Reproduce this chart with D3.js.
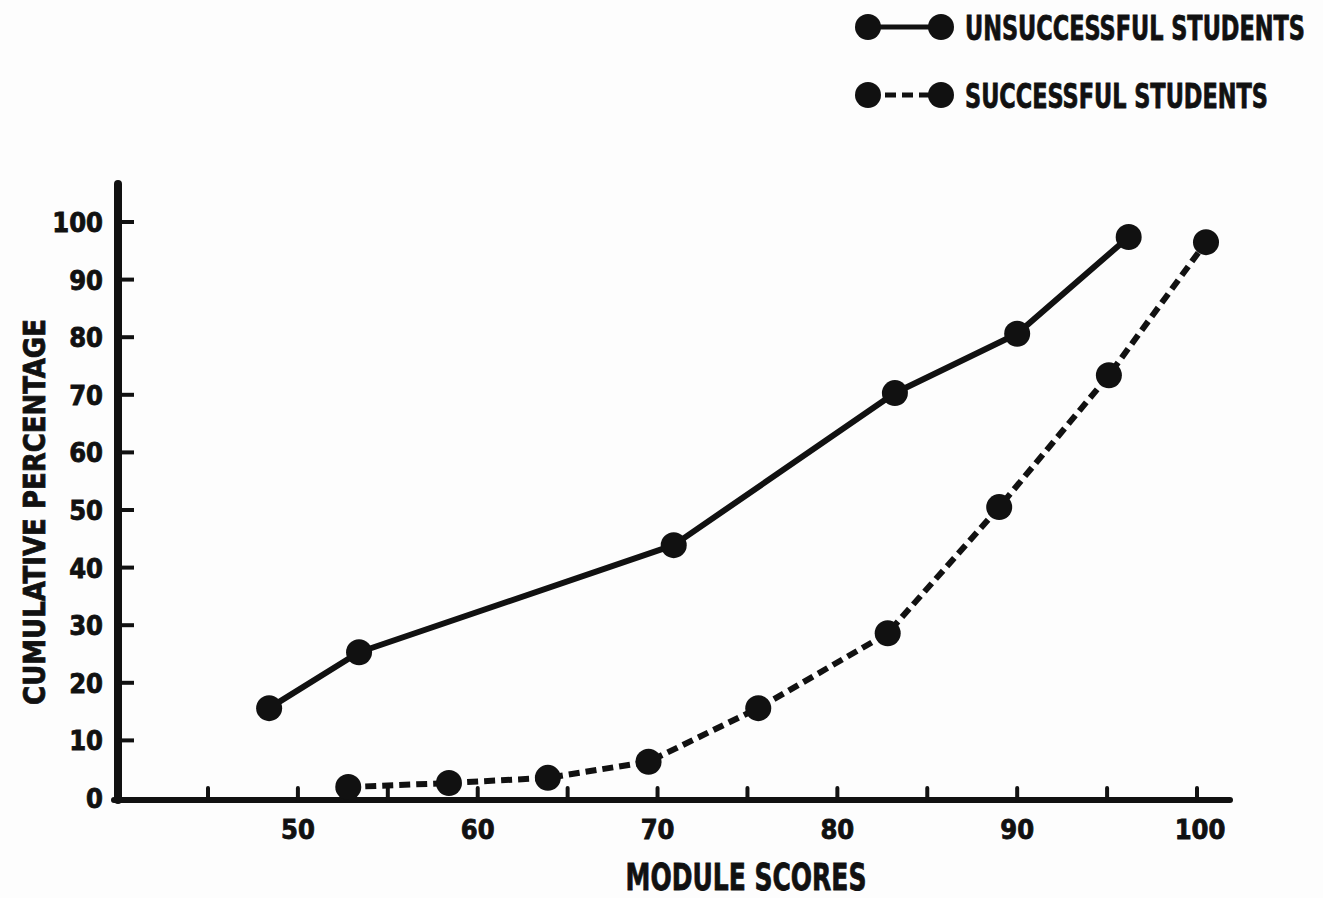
<!DOCTYPE html>
<html lang="en">
<head>
    <meta charset="UTF-8">
    <title>Cumulative percentage by module scores</title>
    <script src="https://cdnjs.cloudflare.com/ajax/libs/d3/7.8.5/d3.min.js"></script>
    <style>
        body { margin: 0; background: #fdfdfd; }
        svg text { font-family: "Liberation Sans Narrow", "DejaVu Sans Condensed", "Liberation Sans", sans-serif; font-weight: bold; fill: #111; stroke: #111; stroke-width: 0.8px; }
    </style>
</head>
<body>
    <svg width="1323" height="898"></svg>
    <script>
        "use strict";

        // data
        const unsuccessfulScores = [48.4, 53.4, 70.9, 83.2, 90.0, 96.2];
        const unsuccessfulPct    = [15.6, 25.3, 43.9, 70.3, 80.6, 97.4];
        const successfulScores   = [52.8, 58.4, 63.9, 69.5, 75.6, 82.8, 89.0, 95.1, 100.5];
        const successfulPct      = [1.9, 2.6, 3.5, 6.3, 15.6, 28.6, 50.5, 73.4, 96.5];
        const xTickValues = [45, 50, 55, 60, 65, 70, 75, 80, 85, 90, 95, 100];
        const xTickLabels = [50, 60, 70, 80, 90, 100];
        const yTickValues = [0, 10, 20, 30, 40, 50, 60, 70, 80, 90, 100];
        const legendLabels = ["UNSUCCESSFUL STUDENTS", "SUCCESSFUL STUDENTS"];

        const ink = "#111";
        const svg = d3.select("svg");

        const x = d3.scaleLinear().domain([45, 100]).range([208, 1197]);
        const y = d3.scaleLinear().domain([0, 100]).range([798, 222]);

        // squeeze a text horizontally to a given width (the original lettering is condensed)
        function fitText(g, text, width) {
            const natural = text.node().getComputedTextLength();
            text.attr("transform", `scale(${width / natural}, 1)`);
        }

        // axes lines
        svg.append("line")
            .attr("x1", 118).attr("y1", 184).attr("x2", 118).attr("y2", 800)
            .attr("stroke", ink).attr("stroke-width", 8).attr("stroke-linecap", "round");
        svg.append("line")
            .attr("x1", 114).attr("y1", 800).attr("x2", 1230).attr("y2", 800)
            .attr("stroke", ink).attr("stroke-width", 6).attr("stroke-linecap", "round");

        // y ticks
        svg.selectAll(".ytick").data(yTickValues.filter(d => d > 0)).enter()
            .append("line").attr("class", "ytick")
            .attr("x1", 118).attr("x2", 134)
            .attr("y1", d => y(d)).attr("y2", d => y(d))
            .attr("stroke", ink).attr("stroke-width", 4);
        svg.selectAll(".ylab").data(yTickValues).enter()
            .append("text").attr("class", "ylab")
            .attr("x", 103).attr("y", d => y(d) + 10)
            .attr("text-anchor", "end")
            .attr("font-size", 27)
            .text(d => d);

        // x ticks
        svg.selectAll(".xtick").data(xTickValues).enter()
            .append("line").attr("class", "xtick")
            .attr("x1", d => x(d)).attr("x2", d => x(d))
            .attr("y1", 800).attr("y2", 788)
            .attr("stroke", ink).attr("stroke-width", 4).attr("stroke-linecap", "round");
        svg.selectAll(".xlab").data(xTickLabels).enter()
            .append("text").attr("class", "xlab")
            .attr("x", d => x(d) + (d === 100 ? 3 : 0)).attr("y", 839)
            .attr("text-anchor", "middle")
            .attr("font-size", 27)
            .text(d => d);

        // axis titles
        const xTitleG = svg.append("g").attr("transform", "translate(746,890)");
        const xTitle = xTitleG.append("text")
            .attr("text-anchor", "middle")
            .attr("font-size", 38)
            .text("MODULE SCORES");
        fitText(xTitleG, xTitle, 241);

        const yTitleG = svg.append("g").attr("transform", "translate(45,512) rotate(-90)");
        const yTitle = yTitleG.append("text")
            .attr("text-anchor", "middle")
            .attr("font-size", 31)
            .text("CUMULATIVE PERCENTAGE");
        fitText(yTitleG, yTitle, 386);

        // series
        const line = d3.line().x(d => x(d[0])).y(d => y(d[1]));
        const unsuccessful = d3.zip(unsuccessfulScores, unsuccessfulPct);
        const successful = d3.zip(successfulScores, successfulPct);

        svg.append("path").datum(unsuccessful)
            .attr("d", line).attr("fill", "none")
            .attr("stroke", ink).attr("stroke-width", 6).attr("stroke-linejoin", "round");
        svg.append("path").datum(successful)
            .attr("d", line).attr("fill", "none")
            .attr("stroke", ink).attr("stroke-width", 6)
            .attr("stroke-dasharray", "11,6");

        svg.selectAll(".pu").data(unsuccessful).enter()
            .append("circle").attr("class", "pu")
            .attr("cx", d => x(d[0])).attr("cy", d => y(d[1])).attr("r", 13)
            .attr("fill", ink);
        svg.selectAll(".ps").data(successful).enter()
            .append("circle").attr("class", "ps")
            .attr("cx", d => x(d[0])).attr("cy", d => y(d[1])).attr("r", 13)
            .attr("fill", ink);

        // legend
        const legend = svg.selectAll(".leg").data(legendLabels).enter()
            .append("g").attr("class", "leg")
            .attr("transform", (d, i) => `translate(0, ${27 + i * 68})`);
        legend.append("line")
            .attr("x1", 868).attr("x2", 941).attr("y1", 0).attr("y2", 0)
            .attr("stroke", ink).attr("stroke-width", 5)
            .attr("stroke-dasharray", (d, i) => i === 0 ? null : "11,6");
        legend.append("circle").attr("cx", 868).attr("cy", 0).attr("r", 13).attr("fill", ink);
        legend.append("circle").attr("cx", 941).attr("cy", 0).attr("r", 13).attr("fill", ink);
        legend.each(function (d, i) {
            const g = d3.select(this).append("g").attr("transform", "translate(965,13)");
            const t = g.append("text").attr("font-size", 34).text(d);
            fitText(g, t, i === 0 ? 340 : 303);
        });
    </script>
</body>
</html>
